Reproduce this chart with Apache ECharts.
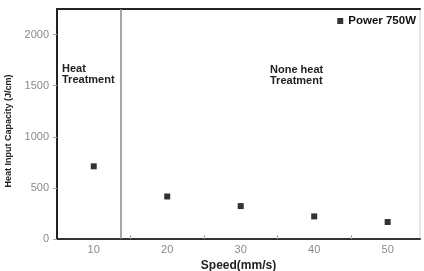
<!DOCTYPE html>
<html><head><meta charset="utf-8">
<script src="https://cdn.jsdelivr.net/npm/echarts@6/dist/echarts.min.js"></script>
<style>html,body{margin:0;padding:0;background:#fff}#c{width:424px;height:271px}</style>
</head><body><div id="c"></div>
<script>
const speeds = [10, 20, 30, 40, 50];
const heatInput = [711, 416, 322, 221, 166];
const xTickLabels = [10, 20, 30, 40, 50];
const xMinorTicks = [15, 25, 35, 45];
const yTickLabels = [0, 500, 1000, 1500, 2000];
const dividerSpeed = 13.7;
const seriesName = 'Power 750W';

const chart = echarts.init(document.getElementById('c'), null, {renderer: 'canvas'});
const labelFont = {fontFamily: 'Liberation Sans, Arial', fontSize: 11, color: '#8a8a8a'};
chart.setOption({
  animation: false,
  backgroundColor: '#fff',
  grid: {left: 57, right: 4, top: 9, bottom: 32, outerBoundsMode: 'none', containLabel: false,
         show: true, borderColor: '#ccc', borderWidth: 1},
  legend: {
    data: [{name: seriesName, icon: 'rect'}],
    right: 3, top: 10, itemWidth: 6, itemHeight: 6, itemGap: 6,
    textStyle: {fontFamily: 'Liberation Sans, Arial', fontWeight: 'bold', fontSize: 11.5, color: '#111'}
  },
  xAxis: [{
    type: 'value', min: 5, max: 54.4, position: 'bottom',
    name: 'Speed(mm/s)', nameLocation: 'middle', nameGap: 19,
    nameTextStyle: {fontFamily: 'Liberation Sans, Arial', fontWeight: 'bold', fontSize: 12, color: '#222'},
    axisLine: {show: true, onZero: false, lineStyle: {color: '#333', width: 2}},
    axisTick: {show: true, inside: true, length: 4, customValues: xMinorTicks, lineStyle: {color: '#aaa'}},
    axisLabel: Object.assign({customValues: xTickLabels, margin: 5, formatter: v => String(v)}, labelFont),
    splitLine: {show: false}
  }, {
    type: 'value', min: 5, max: 54.4, position: 'top',
    axisLine: {show: true, onZero: false, lineStyle: {color: '#222', width: 2}},
    axisTick: {show: false}, axisLabel: {show: false}, splitLine: {show: false}
  }],
  yAxis: [{
    type: 'value', min: 0, max: 2250, position: 'left',
    name: 'Heat Input Capacity (J/cm)', nameLocation: 'middle', nameGap: 44, nameRotate: 90,
    nameTextStyle: {fontFamily: 'Liberation Sans, Arial', fontWeight: 'bold', fontSize: 9, color: '#222', padding: [0, 14, 0, 0]},
    axisLine: {show: true, onZero: false, lineStyle: {color: '#222', width: 2}},
    axisTick: {show: true, length: 4, customValues: yTickLabels, lineStyle: {color: '#aaa'}},
    axisLabel: Object.assign({customValues: yTickLabels, margin: 8, formatter: v => String(v)}, labelFont),
    splitLine: {show: false}
  }],
  series: [{
    name: seriesName, type: 'scatter', symbol: 'rect', symbolSize: 6,
    itemStyle: {color: '#000'},
    data: speeds.map((s, i) => [s, heatInput[i]]),
    markLine: {
      silent: true, symbol: 'none', label: {show: false},
      lineStyle: {color: '#888', width: 1.5, type: 'solid'},
      data: [{xAxis: dividerSpeed}]
    }
  }],
  graphic: [
    {type: 'text', left: 62, top: 63, style: {text: 'Heat\nTreatment', font: 'bold 11px Liberation Sans, Arial', fill: '#222', lineHeight: 11}},
    {type: 'text', left: 270, top: 64, style: {text: 'None heat\nTreatment', font: 'bold 11px Liberation Sans, Arial', fill: '#222', lineHeight: 11}}
  ]
});
</script></body></html>
